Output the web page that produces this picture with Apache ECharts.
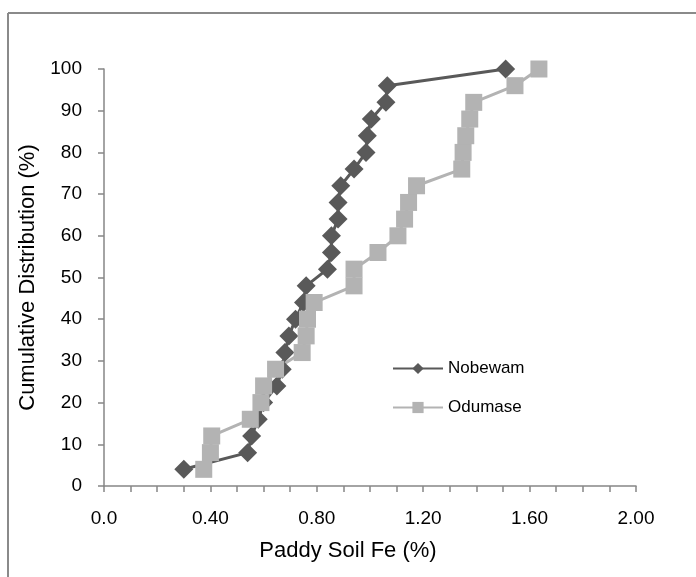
<!DOCTYPE html>
<html>
<head>
<meta charset="utf-8">
<script src="https://cdn.jsdelivr.net/npm/echarts@6/dist/echarts.min.js"></script>
<style>
html,body{margin:0;padding:0;background:#fff;}
#chart{width:696px;height:577px;}
</style>
</head>
<body>
<div id="chart"></div>
<script>
const cumulative = [4,8,12,16,20,24,28,32,36,40,44,48,52,56,60,64,68,72,76,80,84,88,92,96,100];
const nobewamFe = [0.30,0.54,0.555,0.58,0.60,0.65,0.67,0.68,0.695,0.72,0.75,0.76,0.84,0.855,0.855,0.88,0.88,0.89,0.94,0.985,0.99,1.005,1.06,1.065,1.51];
const odumaseFe = [0.375,0.40,0.405,0.55,0.59,0.60,0.645,0.745,0.76,0.765,0.79,0.94,0.94,1.03,1.105,1.13,1.145,1.175,1.345,1.35,1.36,1.375,1.39,1.545,1.635];
const seriesNames = ['Nobewam','Odumase'];
const xTitle = 'Paddy Soil Fe (%)';
const yTitle = 'Cumulative Distribution (%)';

const font = 'Liberation Sans';
const chart = echarts.init(document.getElementById('chart'));
const pairs = (xs) => xs.map((x,i)=>[x, cumulative[i]]);

chart.setOption({
  animation:false,
  backgroundColor:'#fff',
  graphic:[
    {type:'line', shape:{x1:8,y1:13,x2:696,y2:13}, style:{stroke:'#8a8a8a',lineWidth:2}},
    {type:'line', shape:{x1:8,y1:13,x2:8,y2:577}, style:{stroke:'#8a8a8a',lineWidth:2}}
  ],
  grid:{left:104,right:60,top:69,bottom:91},
  legend:{
    orient:'vertical', left:387, top:355, itemWidth:50, itemHeight:14, itemGap:22,
    textStyle:{fontFamily:font,fontSize:17,color:'#000'},
    data:seriesNames
  },
  xAxis:{
    type:'value', min:0, max:2, interval:0.1,
    name:xTitle, nameLocation:'middle', nameGap:54,
    nameTextStyle:{fontFamily:font,fontSize:22,color:'#000',padding:[0,44,0,0]},
    axisLine:{show:true,lineStyle:{color:'#868686',width:1.5}},
    axisTick:{show:true,length:6,lineStyle:{color:'#868686',width:1.5}},
    axisLabel:{fontFamily:font,fontSize:19,color:'#000',margin:23,
      formatter:(v)=>{const k=Math.round(v*10); if(k%4!==0) return ''; return k===0?'0.0':(k/10).toFixed(2);} },
    splitLine:{show:false}
  },
  yAxis:{
    type:'value', min:0, max:100, interval:10,
    name:yTitle, nameLocation:'middle', nameGap:55,
    nameTextStyle:{fontFamily:font,fontSize:22,color:'#000'},
    axisLine:{show:true,lineStyle:{color:'#868686',width:1.5}},
    axisTick:{show:true,length:6,lineStyle:{color:'#868686',width:1.5}},
    axisLabel:{fontFamily:font,fontSize:19,color:'#000',margin:22},
    splitLine:{show:false}
  },
  series:[
    {name:seriesNames[0], type:'line', data:pairs(nobewamFe), symbol:'diamond', symbolSize:19,
      lineStyle:{color:'#595959',width:3}, itemStyle:{color:'#595959'}},
    {name:seriesNames[1], type:'line', data:pairs(odumaseFe), symbol:'rect', symbolSize:17,
      lineStyle:{color:'#b3b3b3',width:3}, itemStyle:{color:'#b3b3b3'}}
  ]
});
</script>
</body>
</html>
